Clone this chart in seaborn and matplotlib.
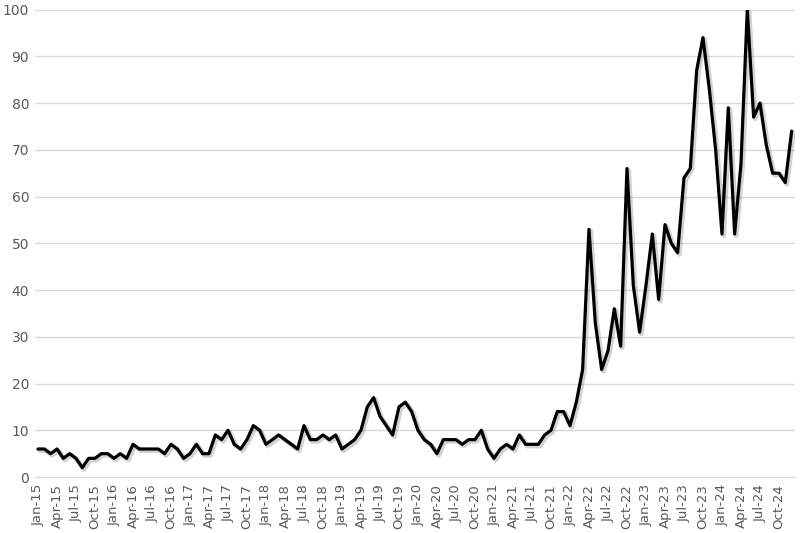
import numpy as np
import pandas as pd
import seaborn as sns
import matplotlib.pyplot as plt
import matplotlib.patheffects as pe

# monthly values, Jan-15 .. Dec-24
vals_2015 = [6, 6, 5, 6, 4, 5, 4, 2, 4, 4, 5, 5]
vals_2016 = [4, 5, 4, 7, 6, 6, 6, 6, 5, 7, 6, 4]
vals_2017 = [5, 7, 5, 5, 9, 8, 10, 7, 6, 8, 11, 10]
vals_2018 = [7, 8, 9, 8, 7, 6, 11, 8, 8, 9, 8, 9]
vals_2019 = [6, 7, 8, 10, 15, 17, 13, 11, 9, 15, 16, 14]
vals_2020 = [10, 8, 7, 5, 8, 8, 8, 7, 8, 8, 10, 6]
vals_2021 = [4, 6, 7, 6, 9, 7, 7, 7, 9, 10, 14, 14]
vals_2022 = [11, 16, 23, 53, 33, 23, 27, 36, 28, 66, 41, 31]
vals_2023 = [41, 52, 38, 54, 50, 48, 64, 66, 87, 94, 83, 70]
vals_2024 = [52, 79, 52, 67, 100, 77, 80, 71, 65, 65, 63, 74]

values = (vals_2015 + vals_2016 + vals_2017 + vals_2018 + vals_2019
          + vals_2020 + vals_2021 + vals_2022 + vals_2023 + vals_2024)
months = pd.date_range("2015-01-01", periods=len(values), freq="MS").strftime("%b-%y").tolist()
df = pd.DataFrame({"idx": np.arange(len(values)), "value": values})

sns.set_style("white")
plt.rcParams["font.family"] = ["DejaVu Sans"]

fig = plt.figure(figsize=(8, 5.33), dpi=100)
ax = fig.add_axes([0.0435, 0.105, 0.95, 0.877])

sns.lineplot(data=df, x="idx", y="value", color="black", lw=2.3, ax=ax,
             path_effects=[pe.SimpleLineShadow(offset=(1.2, -1.2), shadow_color="grey", alpha=0.35, linewidth=3.5),
                           pe.Normal()])

ax.set_xlim(-0.5, len(values) - 0.5)
ax.set_ylim(0, 100)
ax.set_yticks(range(0, 101, 10))
ax.yaxis.grid(True, color="#d9d9d9", lw=1)
ax.set_axisbelow(True)

# labels sit on the months, tick marks between them
ax.set_xticks(np.arange(0, len(values), 3))
ax.set_xticklabels(months[::3], rotation=90)
ax.set_xticks(np.arange(-0.5, len(values), 3), minor=True)
ax.tick_params(axis="x", which="major", length=0, pad=5, labelsize=9.5, labelcolor="#595959")
ax.tick_params(axis="x", which="minor", length=5, color="#d9d9d9", width=1)
ax.tick_params(axis="y", length=0, pad=4, labelsize=10, labelcolor="#595959")

for s in ["top", "right", "left"]:
    ax.spines[s].set_visible(False)
ax.spines["bottom"].set_color("#d9d9d9")
ax.set_xlabel("")
ax.set_ylabel("")

fig.savefig("out.png", dpi=100)
